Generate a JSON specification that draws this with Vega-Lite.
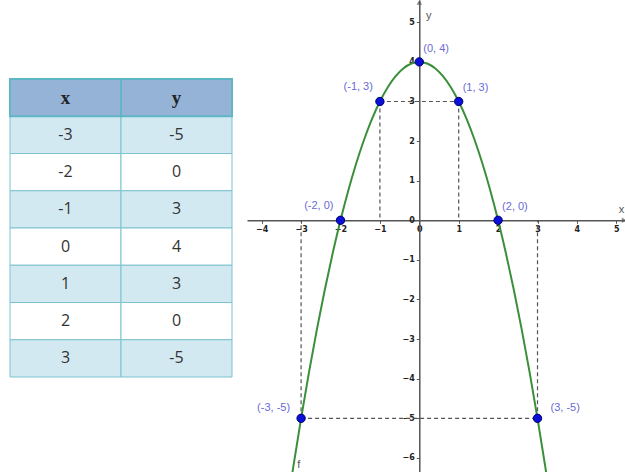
{
  "$schema": "https://vega.github.io/schema/vega-lite/v6.json",
  "padding": 0,
  "spacing": 14,
  "background": "white",
  "config": {"view": {"stroke": null}},
  "datasets": {
    "table": [
      {"row": "h", "col": "x", "text": "x", "kind": "header"},
      {"row": "h", "col": "y", "text": "y", "kind": "header"},
      {"row": "r1", "col": "x", "text": "-3", "kind": "shade"},
      {"row": "r1", "col": "y", "text": "-5", "kind": "shade"},
      {"row": "r2", "col": "x", "text": "-2", "kind": "plain"},
      {"row": "r2", "col": "y", "text": "0", "kind": "plain"},
      {"row": "r3", "col": "x", "text": "-1", "kind": "shade"},
      {"row": "r3", "col": "y", "text": "3", "kind": "shade"},
      {"row": "r4", "col": "x", "text": "0", "kind": "plain"},
      {"row": "r4", "col": "y", "text": "4", "kind": "plain"},
      {"row": "r5", "col": "x", "text": "1", "kind": "shade"},
      {"row": "r5", "col": "y", "text": "3", "kind": "shade"},
      {"row": "r6", "col": "x", "text": "2", "kind": "plain"},
      {"row": "r6", "col": "y", "text": "0", "kind": "plain"},
      {"row": "r7", "col": "x", "text": "3", "kind": "shade"},
      {"row": "r7", "col": "y", "text": "-5", "kind": "shade"}
    ],
    "curve": [
      {"x": -3.4, "y": -7.56}, {"x": -3.2, "y": -6.24}, {"x": -3.0, "y": -5}, {"x": -2.8, "y": -3.84},
      {"x": -2.6, "y": -2.76}, {"x": -2.4, "y": -1.76}, {"x": -2.2, "y": -0.84}, {"x": -2.0, "y": 0},
      {"x": -1.8, "y": 0.76}, {"x": -1.6, "y": 1.44}, {"x": -1.4, "y": 2.04}, {"x": -1.2, "y": 2.56},
      {"x": -1.0, "y": 3}, {"x": -0.8, "y": 3.36}, {"x": -0.6, "y": 3.64}, {"x": -0.4, "y": 3.84},
      {"x": -0.2, "y": 3.96}, {"x": 0, "y": 4}, {"x": 0.2, "y": 3.96}, {"x": 0.4, "y": 3.84},
      {"x": 0.6, "y": 3.64}, {"x": 0.8, "y": 3.36}, {"x": 1.0, "y": 3}, {"x": 1.2, "y": 2.56},
      {"x": 1.4, "y": 2.04}, {"x": 1.6, "y": 1.44}, {"x": 1.8, "y": 0.76}, {"x": 2.0, "y": 0},
      {"x": 2.2, "y": -0.84}, {"x": 2.4, "y": -1.76}, {"x": 2.6, "y": -2.76}, {"x": 2.8, "y": -3.84},
      {"x": 3.0, "y": -5}, {"x": 3.2, "y": -6.24}, {"x": 3.4, "y": -7.56}
    ],
    "points": [
      {"x": -3, "y": -5, "label": "(-3, -5)"},
      {"x": -2, "y": 0, "label": "(-2, 0)"},
      {"x": -1, "y": 3, "label": "(-1, 3)"},
      {"x": 0, "y": 4, "label": "(0, 4)"},
      {"x": 1, "y": 3, "label": "(1, 3)"},
      {"x": 2, "y": 0, "label": "(2, 0)"},
      {"x": 3, "y": -5, "label": "(3, -5)"}
    ],
    "dashes": [
      {"x1": -1, "y1": 3, "x2": 1, "y2": 3},
      {"x1": -1, "y1": 3, "x2": -1, "y2": 0},
      {"x1": 1, "y1": 3, "x2": 1, "y2": 0},
      {"x1": -3, "y1": -5, "x2": 3, "y2": -5},
      {"x1": -3, "y1": -5, "x2": -3, "y2": 0},
      {"x1": 3, "y1": -5, "x2": 3, "y2": 0}
    ],
    "arrows": [
      {"x": 0, "y": 5.5, "shape": "triangle-up"},
      {"x": 5.2, "y": 0, "shape": "triangle-right"}
    ],
    "names": [
      {"x": 0.17, "y": 5.16, "name": "y"},
      {"x": 5.06, "y": 0.25, "name": "x"},
      {"x": -3.1, "y": -6.18, "name": "f"}
    ]
  },
  "hconcat": [
    {
      "width": 232,
      "height": 472,
      "data": {"name": "table"},
      "encoding": {
        "x": {"field": "col", "type": "nominal", "axis": null,
              "scale": {"domain": ["x", "y"], "paddingInner": 0, "paddingOuter": 0, "range": [10, 232]}},
        "y": {"field": "row", "type": "ordinal", "axis": null,
              "scale": {"domain": ["h", "r1", "r2", "r3", "r4", "r5", "r6", "r7"], "paddingInner": 0, "paddingOuter": 0, "range": [79, 377]}}
      },
      "layer": [
        {
          "mark": {"type": "rect", "stroke": "#7cc3cf", "strokeWidth": 1},
          "encoding": {
            "fill": {"field": "kind", "type": "nominal", "legend": null,
                     "scale": {"domain": ["header", "shade", "plain"], "range": ["#95b3d7", "#d3e9f1", "#ffffff"]}}
          }
        },
        {
          "transform": [{"filter": "datum.kind == 'header'"}],
          "mark": {"type": "rect", "fill": "#95b3d7", "stroke": "#5fb7c4", "strokeWidth": 2}
        },
        {
          "transform": [{"filter": "datum.kind == 'header'"}],
          "mark": {"type": "text", "font": "Liberation Serif", "fontWeight": "bold", "fontSize": 19, "color": "#222222", "baseline": "middle"},
          "encoding": {"text": {"field": "text"}}
        },
        {
          "transform": [{"filter": "datum.kind != 'header'"}],
          "mark": {"type": "text", "font": "Open Sans", "fontSize": 16, "color": "#333333", "baseline": "middle"},
          "encoding": {"text": {"field": "text"}}
        }
      ]
    },
    {
      "width": 379,
      "height": 472,
      "encoding": {
        "x": {"type": "quantitative",
              "scale": {"domain": [-4.373, 5.246], "nice": false, "zero": false},
              "axis": {"orient": "bottom", "offset": -251.7, "values": [-4, -3, -2, -1, 0, 1, 2, 3, 4, 5],
                       "title": null, "grid": false, "domainColor": "#555555", "domainWidth": 1.5,
                       "tickColor": "#555555", "tickSize": 3, "labelFontSize": 8, "labelFontWeight": "bold",
                       "labelColor": "#222222", "labelPadding": 2, "labelFont": "DejaVu Sans"}},
        "y": {"type": "quantitative",
              "scale": {"domain": [-6.356, 5.563], "nice": false, "zero": false},
              "axis": {"orient": "left", "offset": -172.3, "values": [-6, -5, -4, -3, -2, -1, 0, 1, 2, 3, 4, 5],
                       "title": null, "grid": false, "domainColor": "#555555", "domainWidth": 1.5,
                       "tickColor": "#555555", "tickSize": 3, "labelFontSize": 8, "labelFontWeight": "bold",
                       "labelColor": "#222222", "labelPadding": 2, "labelFont": "DejaVu Sans"}}
      },
      "layer": [
        {
          "data": {"name": "dashes"},
          "mark": {"type": "rule", "color": "#555555", "strokeDash": [4, 3], "strokeWidth": 1.2},
          "encoding": {
            "x": {"field": "x1", "type": "quantitative"},
            "y": {"field": "y1", "type": "quantitative"},
            "x2": {"field": "x2"},
            "y2": {"field": "y2"}
          }
        },
        {
          "data": {"name": "curve"},
          "mark": {"type": "line", "color": "#3a8f3a", "strokeWidth": 2, "clip": true, "interpolate": "monotone"},
          "encoding": {
            "x": {"field": "x", "type": "quantitative"},
            "y": {"field": "y", "type": "quantitative"}
          }
        },
        {
          "data": {"name": "arrows"},
          "mark": {"type": "point", "filled": true, "color": "#555555", "size": 30},
          "encoding": {
            "x": {"field": "x", "type": "quantitative"},
            "y": {"field": "y", "type": "quantitative"},
            "shape": {"field": "shape", "type": "nominal", "scale": null, "legend": null}
          }
        },
        {
          "data": {"name": "names"},
          "mark": {"type": "text", "font": "Liberation Sans", "fontSize": 11, "color": "#555555", "align": "left", "baseline": "middle"},
          "encoding": {
            "x": {"field": "x", "type": "quantitative"},
            "y": {"field": "y", "type": "quantitative"},
            "text": {"field": "name"}
          }
        },
        {
          "data": {"name": "points"},
          "mark": {"type": "point", "filled": true, "shape": "circle", "size": 70, "fill": "#0a10d8", "stroke": "#00006e", "strokeWidth": 1, "opacity": 1},
          "encoding": {
            "x": {"field": "x", "type": "quantitative"},
            "y": {"field": "y", "type": "quantitative"}
          }
        },
        {
          "data": {"name": "points"},
          "transform": [{"filter": "datum.x < 0 && datum.y > -5"}],
          "mark": {"type": "text", "font": "Liberation Sans", "fontSize": 11, "color": "#6a6ad6", "align": "right", "baseline": "middle", "dx": -7, "dy": -14},
          "encoding": {
            "x": {"field": "x", "type": "quantitative"},
            "y": {"field": "y", "type": "quantitative"},
            "text": {"field": "label"}
          }
        },
        {
          "data": {"name": "points"},
          "transform": [{"filter": "datum.x >= 0 && datum.y > -5"}],
          "mark": {"type": "text", "font": "Liberation Sans", "fontSize": 11, "color": "#6a6ad6", "align": "left", "baseline": "middle", "dx": 4, "dy": -13},
          "encoding": {
            "x": {"field": "x", "type": "quantitative"},
            "y": {"field": "y", "type": "quantitative"},
            "text": {"field": "label"}
          }
        },
        {
          "data": {"name": "points"},
          "transform": [{"filter": "datum.x < 0 && datum.y == -5"}],
          "mark": {"type": "text", "font": "Liberation Sans", "fontSize": 11, "color": "#6a6ad6", "align": "right", "baseline": "middle", "dx": -11, "dy": -10},
          "encoding": {
            "x": {"field": "x", "type": "quantitative"},
            "y": {"field": "y", "type": "quantitative"},
            "text": {"field": "label"}
          }
        },
        {
          "data": {"name": "points"},
          "transform": [{"filter": "datum.x > 0 && datum.y == -5"}],
          "mark": {"type": "text", "font": "Liberation Sans", "fontSize": 11, "color": "#6a6ad6", "align": "left", "baseline": "middle", "dx": 13, "dy": -10},
          "encoding": {
            "x": {"field": "x", "type": "quantitative"},
            "y": {"field": "y", "type": "quantitative"},
            "text": {"field": "label"}
          }
        }
      ]
    }
  ]
}
